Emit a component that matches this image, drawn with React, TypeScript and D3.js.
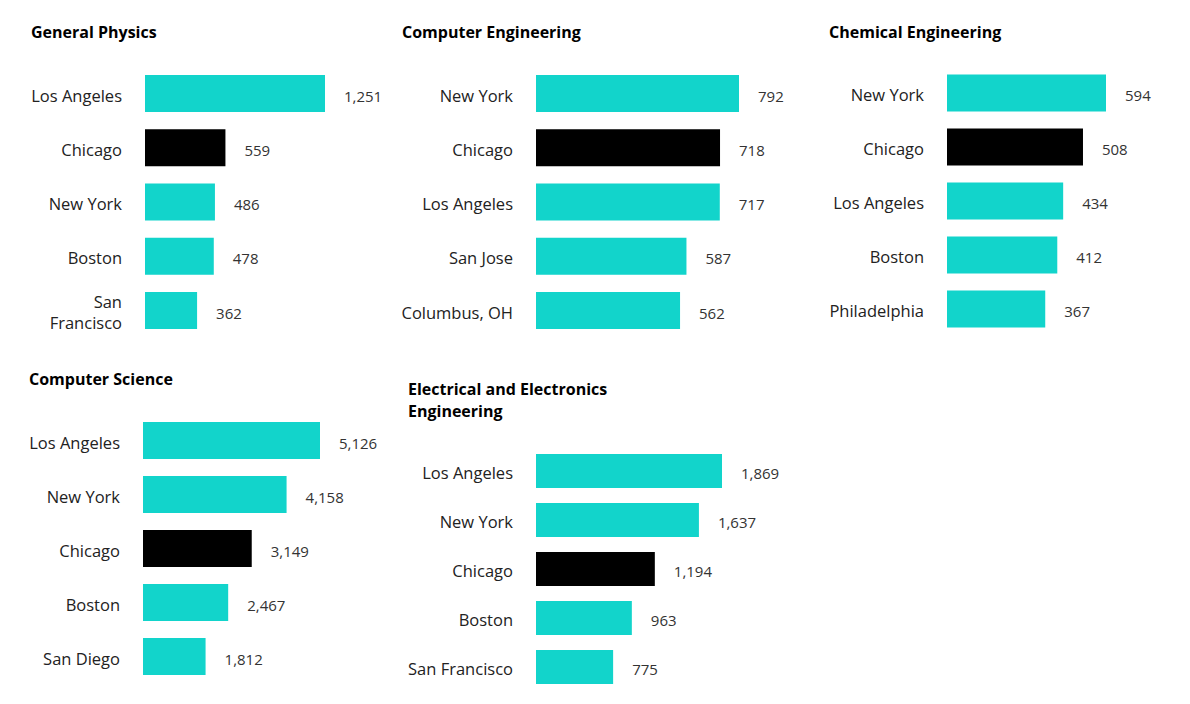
import React, { useEffect, useRef } from "react";
import * as d3 from "d3";

// data
const physicsCities = ["Los Angeles", "Chicago", "New York", "Boston", "San Francisco"];
const physicsValues = [1251, 559, 486, 478, 362];

const compEngCities = ["New York", "Chicago", "Los Angeles", "San Jose", "Columbus, OH"];
const compEngValues = [792, 718, 717, 587, 562];

const chemEngCities = ["New York", "Chicago", "Los Angeles", "Boston", "Philadelphia"];
const chemEngValues = [594, 508, 434, 412, 367];

const compSciCities = ["Los Angeles", "New York", "Chicago", "Boston", "San Diego"];
const compSciValues = [5126, 4158, 3149, 2467, 1812];

const elecEngCities = ["Los Angeles", "New York", "Chicago", "Boston", "San Francisco"];
const elecEngValues = [1869, 1637, 1194, 963, 775];

const highlightCity = "Chicago";

// layout of each small chart
const panels = [
  { title: "General Physics", cities: physicsCities, values: physicsValues,
    titleX: 31, titleY: 38, labelRight: 122, labelMax: 96, barX: 145, barMax: 180, top: 75, step: 54.25, bh: 37 },
  { title: "Computer Engineering", cities: compEngCities, values: compEngValues,
    titleX: 402, titleY: 38, labelRight: 513, labelMax: 140, barX: 536, barMax: 203, top: 75, step: 54.25, bh: 37 },
  { title: "Chemical Engineering", cities: chemEngCities, values: chemEngValues,
    titleX: 829, titleY: 38, labelRight: 924, labelMax: 140, barX: 947, barMax: 159, top: 74.5, step: 54, bh: 37 },
  { title: "Computer Science", cities: compSciCities, values: compSciValues,
    titleX: 29, titleY: 385, labelRight: 120, labelMax: 140, barX: 143, barMax: 177, top: 422, step: 54, bh: 37 },
  { title: "Electrical and Electronics Engineering", cities: elecEngCities, values: elecEngValues,
    titleX: 408, titleY: 395, titleMax: 240, labelRight: 513, labelMax: 140, barX: 536, barMax: 186, top: 454, step: 49, bh: 34 },
];

const TEAL = "#12d4cb";
const FONT = "'Open Sans', sans-serif";

// split text into lines that fit maxWidth
function wrapText(text: d3.Selection<SVGTextElement, any, any, any>, maxWidth: number) {
  const words = text.text().split(/\s+/);
  text.text(null);
  const lines: string[] = [];
  let line: string[] = [];
  const tspan = text.append("tspan");
  for (const w of words) {
    line.push(w);
    tspan.text(line.join(" "));
    if ((tspan.node() as SVGTSpanElement).getComputedTextLength() > maxWidth && line.length > 1) {
      line.pop();
      lines.push(line.join(" "));
      line = [w];
    }
  }
  lines.push(line.join(" "));
  tspan.remove();
  return lines;
}

export default function App() {
  const svgRef = useRef<SVGSVGElement | null>(null);

  useEffect(() => {
    document.body.style.margin = "0";
    if (!svgRef.current) return;
    const svg = d3.select(svgRef.current);
    svg.selectAll("*").remove();

    panels.forEach((p) => {
      const g = svg.append("g");
      const n = p.cities.length;

      const y = d3
        .scaleBand<string>()
        .domain(p.cities)
        .range([p.top, p.top + (n - 1) * p.step + p.bh])
        .paddingInner(1 - p.bh / p.step)
        .paddingOuter(0);

      const x = d3
        .scaleLinear()
        .domain([0, d3.max(p.values) as number])
        .range([0, p.barMax]);

      // title
      const title = g
        .append("text")
        .attr("x", p.titleX)
        .attr("y", p.titleY)
        .attr("fill", "#000")
        .style("font-family", FONT)
        .style("font-size", "16px")
        .style("font-weight", "700")
        .text(p.title);
      if (p.titleMax) {
        const lines = wrapText(title, p.titleMax);
        lines.forEach((l, i) =>
          title.append("tspan").attr("x", p.titleX).attr("y", p.titleY + i * 21.5).text(l)
        );
      }

      const rows = p.cities.map((c, i) => ({ city: c, value: p.values[i] }));

      // bars
      g.selectAll(".bar")
        .data(rows)
        .enter()
        .append("rect")
        .attr("x", p.barX)
        .attr("y", (d) => y(d.city) as number)
        .attr("width", (d) => x(d.value))
        .attr("height", y.bandwidth())
        .attr("fill", (d) => (d.city === highlightCity ? "#000" : TEAL));

      // category labels
      g.selectAll(".cat")
        .data(rows)
        .enter()
        .append("text")
        .attr("x", p.labelRight)
        .attr("y", (d) => (y(d.city) as number) + y.bandwidth() / 2 + 8)
        .attr("text-anchor", "end")
        .attr("fill", "#222")
        .style("font-family", FONT)
        .style("font-size", "16.5px")
        .text((d) => d.city)
        .each(function () {
          const t = d3.select(this as SVGTextElement);
          const base = +t.attr("y");
          const lines = wrapText(t, p.labelMax);
          const off = ((lines.length - 1) * 21) / 2;
          lines.forEach((l, i) =>
            t.append("tspan").attr("x", p.labelRight).attr("y", base - off + i * 21).text(l)
          );
        });

      // value labels
      g.selectAll(".val")
        .data(rows)
        .enter()
        .append("text")
        .attr("x", (d) => p.barX + x(d.value) + 19)
        .attr("y", (d) => (y(d.city) as number) + y.bandwidth() / 2 + 8)
        .attr("fill", "#333")
        .style("font-family", FONT)
        .style("font-size", "15px")
        .text((d) => d3.format(",")(d.value));
    });
  }, []);

  return <svg ref={svgRef} width={1190} height={704} style={{ display: "block", background: "#fff" }} />;
}
